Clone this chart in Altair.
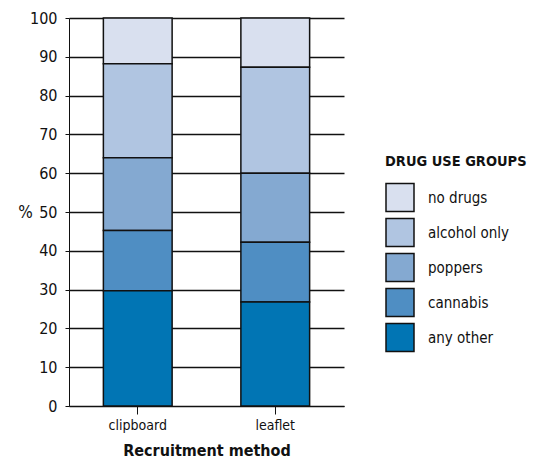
import altair as alt
import pandas as pd

methods = ["clipboard", "leaflet"]
groups = ["no drugs", "alcohol only", "poppers", "cannabis", "any other"]
colors = ["#d9e0ef", "#b0c5e1", "#84a9d1", "#4f8ec3", "#0175b4"]
clipboard_vals = [11.8, 24.2, 18.8, 15.5, 29.7]
leaflet_vals = [12.7, 27.3, 17.8, 15.4, 26.8]

rows = []
for m, vals in zip(methods, [clipboard_vals, leaflet_vals]):
    for i, (g, v) in enumerate(zip(groups, vals)):
        rows.append({"method": m, "group": g, "value": v, "order": len(groups) - i})
df = pd.DataFrame(rows)

FONT = "DejaVu Sans Condensed"

chart = alt.Chart(df).mark_bar(stroke="#111111", strokeWidth=1.5).encode(
    x=alt.X("method:N", sort=methods,
            scale=alt.Scale(paddingInner=0.5, paddingOuter=0.25),
            axis=alt.Axis(title="Recruitment method", labelAngle=0, labelFontSize=14,
                          titleFontSize=16, titleFontWeight="bold", titlePadding=10,
                          labelPadding=4, tickSize=8, domainColor="#111111",
                          tickColor="#111111", labelColor="#111111", titleColor="#111111")),
    y=alt.Y("value:Q", stack="zero",
            scale=alt.Scale(domain=[0, 100], nice=False),
            axis=alt.Axis(title="%", titleAngle=0, titleX=-44, titleY=203,
                          titleFontSize=17, titleFontWeight="normal",
                          values=list(range(0, 101, 10)), labelFontSize=16,
                          tickSize=4, labelPadding=8, grid=True, gridColor="#111111",
                          gridWidth=1.3, gridOpacity=1, domainColor="#111111", tickColor="#111111",
                          labelColor="#111111", titleColor="#111111")),
    color=alt.Color("group:N", sort=groups,
                    scale=alt.Scale(domain=groups, range=colors),
                    legend=alt.Legend(title="DRUG USE GROUPS", orient="none",
                                      legendX=316, legendY=137,
                                      titleFontSize=14.5, titleFontWeight="bold",
                                      titleColor="#111111", titlePadding=13,
                                      labelFontSize=15, labelColor="#111111",
                                      labelOffset=13, symbolType="square",
                                      symbolSize=784, symbolStrokeColor="#111111",
                                      symbolStrokeWidth=1.5, symbolOpacity=1,
                                      rowPadding=1)),
    order=alt.Order("order:Q", sort="ascending"),
).properties(
    width=275, height=388,
    autosize=alt.AutoSizeParams(type="none"),
    padding={"left": 61, "top": 10, "right": 185, "bottom": 56},
).configure(font=FONT).configure_view(stroke=None)

chart.save("out.html", embed_options={"renderer": "svg", "actions": False})
